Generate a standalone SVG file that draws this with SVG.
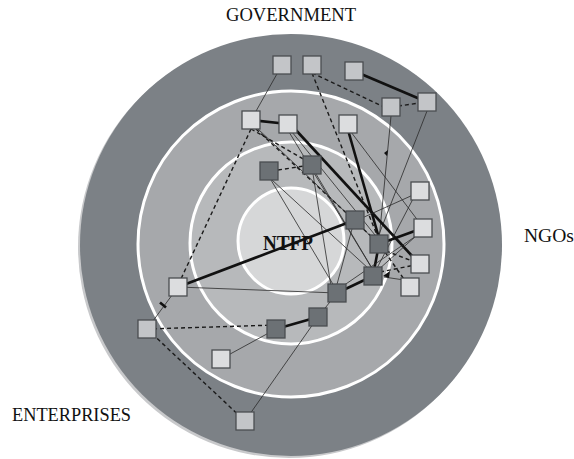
<svg xmlns="http://www.w3.org/2000/svg" width="574" height="459" viewBox="0 0 574 459">
<style>
.lbl{font-family:"Liberation Serif","DejaVu Serif",serif;fill:#111}
.n rect{stroke:#4a4d50;stroke-width:1.3}
.o rect{fill:#c3c5c8}
.l rect{fill:#dcdddf}
.d rect{fill:#6c7175}
.thin{stroke:#2a2a2a;stroke-width:0.8;fill:none}
.thick{stroke:#111;stroke-width:2.6;fill:none}
.dash{stroke:#1a1a1a;stroke-width:1.4;stroke-dasharray:4 3;fill:none}
</style>
<rect width="574" height="459" fill="#fff"/>
<g id="rings">
<circle cx="289" cy="247" r="211" fill="#c8c9cb"/>
<circle cx="291" cy="245" r="211" fill="#7c8186"/>
<circle cx="291" cy="244" r="153" fill="#a6a8ab" stroke="#fff" stroke-width="3"/>
<circle cx="291" cy="243" r="101" fill="#b7b9bb" stroke="#fff" stroke-width="3"/>
<circle cx="291" cy="241" r="53" fill="#d6d7d8" stroke="#fff" stroke-width="3"/>
</g>
<g id="connectors">
<line class="thin" x1="282" y1="65" x2="251" y2="120"/>
<line class="dash" x1="312" y1="73" x2="382" y2="106"/>
<line class="dash" x1="312" y1="73" x2="379" y2="240"/>
<line class="thick" x1="354" y1="71" x2="427" y2="102"/>
<line class="dash" x1="391" y1="107" x2="427" y2="102"/>
<line class="thin" x1="391" y1="116" x2="379" y2="240"/>
<line class="thin" x1="427" y1="111" x2="378" y2="237"/>
<line class="thick" x1="251" y1="120" x2="288" y2="124"/>
<line class="dash" x1="251" y1="129" x2="180" y2="281"/>
<line class="dash" x1="251" y1="129" x2="305" y2="160"/>
<line class="dash" x1="256" y1="129" x2="372" y2="237"/>
<line class="thin" x1="258" y1="129" x2="379" y2="244"/>
<line class="thick" x1="294" y1="128" x2="412" y2="256"/>
<line class="thin" x1="289" y1="132" x2="373" y2="270"/>
<line class="thin" x1="292" y1="132" x2="379" y2="240"/>
<line class="thick" x1="348" y1="130" x2="379" y2="238"/>
<line class="thin" x1="351" y1="132" x2="419" y2="222"/>
<line class="dash" x1="278" y1="170" x2="304" y2="166"/>
<line class="thin" x1="272" y1="180" x2="369" y2="269"/>
<line class="thin" x1="271" y1="180" x2="334" y2="286"/>
<line class="thin" x1="313" y1="174" x2="331" y2="286"/>
<line class="thin" x1="316" y1="174" x2="373" y2="270"/>
<line class="thick" x1="186" y1="284" x2="355" y2="220"/>
<line class="thin" x1="352" y1="229" x2="336" y2="288"/>
<line class="thick" x1="379" y1="244" x2="373" y2="276"/>
<line class="dash" x1="386" y1="251" x2="420" y2="264"/>
<line class="dash" x1="380" y1="272" x2="420" y2="264"/>
<line class="dash" x1="385" y1="252" x2="408" y2="285"/>
<line class="thin" x1="404" y1="280" x2="384" y2="277"/>
<line class="thin" x1="413" y1="195" x2="362" y2="218"/>
<line class="thin" x1="414" y1="197" x2="376" y2="270"/>
<line class="thick" x1="423" y1="228" x2="379" y2="244"/>
<line class="thin" x1="416" y1="236" x2="378" y2="270"/>
<line class="thin" x1="416" y1="236" x2="340" y2="288"/>
<line class="thick" x1="373" y1="276" x2="337" y2="293"/>
<line class="thin" x1="337" y1="293" x2="318" y2="317"/>
<line class="thick" x1="318" y1="317" x2="276" y2="329"/>
<line class="dash" x1="276" y1="325" x2="147" y2="329"/>
<line class="thin" x1="276" y1="329" x2="221" y2="359"/>
<line class="thin" x1="318" y1="317" x2="245" y2="421"/>
<line class="dash" x1="147" y1="329" x2="245" y2="421"/>
<line class="thin" x1="147" y1="329" x2="178" y2="287"/>
<line class="thin" x1="178" y1="287" x2="337" y2="293"/>
<line class="thick" x1="160" y1="302.5" x2="166" y2="307.5"/>
<path d="M384 153 l4 -3 l-1 6 z M383 276 l7 -5 l-1 7 z" fill="#111"/>
</g>
<g id="n1" class="n o"><rect x="273" y="56" width="18" height="18"/></g>
<g id="n2" class="n o"><rect x="303" y="56" width="18" height="18"/></g>
<g id="n3" class="n o"><rect x="345" y="62" width="18" height="18"/></g>
<g id="n4" class="n o"><rect x="382" y="98" width="18" height="18"/></g>
<g id="n5" class="n o"><rect x="418" y="93" width="18" height="18"/></g>
<g id="n6" class="n l"><rect x="242" y="111" width="18" height="18"/></g>
<g id="n7" class="n l"><rect x="279" y="115" width="18" height="18"/></g>
<g id="n8" class="n l"><rect x="339" y="115" width="18" height="18"/></g>
<g id="n9" class="n d"><rect x="260" y="162" width="18" height="18"/></g>
<g id="n10" class="n d"><rect x="303" y="156" width="18" height="18"/></g>
<g id="n11" class="n d"><rect x="346" y="211" width="18" height="18"/></g>
<g id="n12" class="n d"><rect x="370" y="235" width="18" height="18"/></g>
<g id="n13" class="n d"><rect x="364" y="267" width="18" height="18"/></g>
<g id="n14" class="n d"><rect x="328" y="284" width="18" height="18"/></g>
<g id="n15" class="n d"><rect x="309" y="308" width="18" height="18"/></g>
<g id="n16" class="n d"><rect x="267" y="320" width="18" height="18"/></g>
<g id="n17" class="n l"><rect x="411" y="182" width="18" height="18"/></g>
<g id="n18" class="n l"><rect x="414" y="219" width="18" height="18"/></g>
<g id="n19" class="n l"><rect x="411" y="255" width="18" height="18"/></g>
<g id="n20" class="n l"><rect x="401" y="278" width="18" height="18"/></g>
<g id="n21" class="n l"><rect x="169" y="278" width="18" height="18"/></g>
<g id="n22" class="n o"><rect x="138" y="320" width="18" height="18"/></g>
<g id="n23" class="n l"><rect x="212" y="350" width="18" height="18"/></g>
<g id="n24" class="n o"><rect x="236" y="412" width="18" height="18"/></g>
<text class="lbl" x="291" y="21" font-size="18" text-anchor="middle" textLength="130" lengthAdjust="spacingAndGlyphs">GOVERNMENT</text>
<text class="lbl" x="524" y="242" font-size="18" textLength="50" lengthAdjust="spacingAndGlyphs">NGOs</text>
<text class="lbl" x="12" y="421" font-size="18" textLength="119" lengthAdjust="spacingAndGlyphs">ENTERPRISES</text>
<text class="lbl" x="288" y="250" font-size="21" font-weight="bold" text-anchor="middle" textLength="50" lengthAdjust="spacingAndGlyphs">NTFP</text>
</svg>
